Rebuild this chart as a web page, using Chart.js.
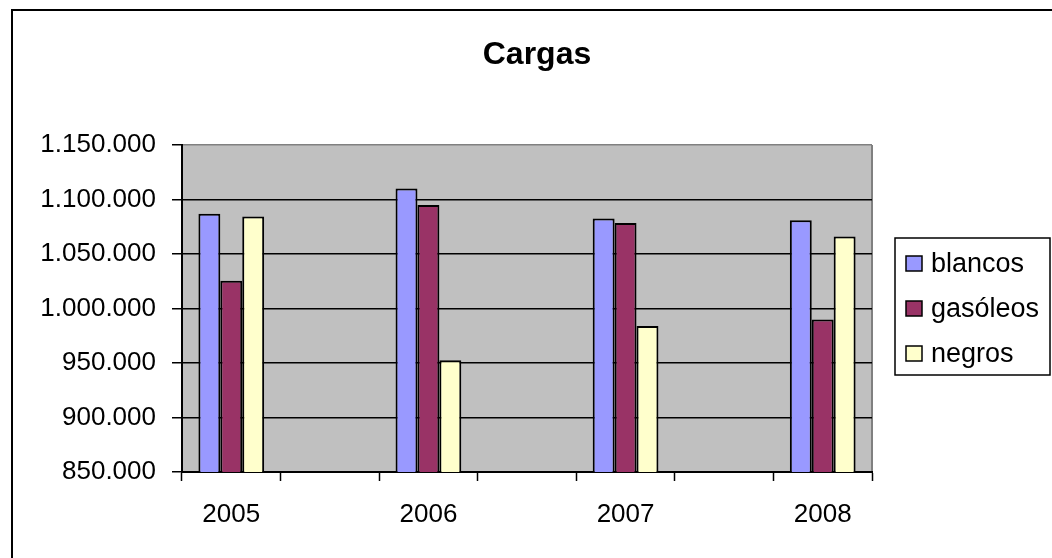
<!DOCTYPE html>
<html lang="es">
<head>
    <meta charset="UTF-8">
    <title>Cargas</title>
    <script src="https://cdn.jsdelivr.net/npm/chart.js"></script>
    <style>
        body {
            margin: 0;
            background: #fff;
        }
        .wrap {
            width: 1052px;
            height: 558px;
            position: relative;
        }
    </style>
</head>
<body>
    <div class="wrap">
        <canvas id="cargasChart"></canvas>
    </div>

    <script>
        const years = ['2005', '2006', '2007', '2008'];
        const blancos = [1087000, 1110000, 1082500, 1081000];
        const gasoleos = [1025500, 1095000, 1078500, 990000];
        const negros = [1084500, 952500, 984000, 1066000];
        const yTicks = [850000, 900000, 950000, 1000000, 1050000, 1100000, 1150000];

        // the original sheet leaves an empty category between the years
        const spaced = arr => arr.flatMap((v, i) => i < arr.length - 1 ? [v, null] : [v]);
        const labels = spaced(years).map(v => v === null ? '' : v);

        const fmt = v => String(v).replace(/\B(?=(\d{3})+(?!\d))/g, '.');

        Chart.defaults.font.family = "'Liberation Sans', Arial, sans-serif";
        Chart.defaults.font.size = 26;
        Chart.defaults.color = '#000';

        const frame = {
            id: 'frame',
            beforeDraw(chart) {
                const { ctx, chartArea: a } = chart;
                ctx.save();
                ctx.fillStyle = '#fff';
                ctx.fillRect(0, 0, chart.width, chart.height);
                ctx.strokeStyle = '#000';
                ctx.lineWidth = 2;
                ctx.beginPath();
                ctx.moveTo(12, chart.height + 5);
                ctx.lineTo(12, 10);
                ctx.lineTo(chart.width + 5, 10);
                ctx.stroke();
                ctx.fillStyle = '#c0c0c0';
                ctx.fillRect(a.left, a.top, a.right - a.left, a.bottom - a.top);
                ctx.strokeStyle = '#808080';
                ctx.beginPath();
                ctx.moveTo(a.right, a.top);
                ctx.lineTo(a.right, a.bottom);
                ctx.stroke();
                ctx.restore();
            },
            afterDraw(chart) {
                const ctx = chart.ctx;
                ctx.save();
                // title
                ctx.fillStyle = '#000';
                ctx.font = "bold 32px 'Liberation Sans', Arial, sans-serif";
                ctx.textAlign = 'center';
                ctx.textBaseline = 'alphabetic';
                ctx.fillText('Cargas', 537, 64);

                // legend box
                ctx.lineWidth = 1.5;
                ctx.strokeStyle = '#000';
                ctx.strokeRect(895, 238, 155, 137);
                ctx.font = "27px 'Liberation Sans', Arial, sans-serif";
                ctx.textAlign = 'left';
                ctx.textBaseline = 'middle';
                chart.data.datasets.forEach((ds, i) => {
                    const y = 264 + i * 45;
                    ctx.fillStyle = ds.backgroundColor;
                    ctx.fillRect(906, y - 8, 16, 15);
                    ctx.lineWidth = 1.5;
                    ctx.strokeRect(906, y - 8, 16, 15);
                    ctx.fillStyle = '#000';
                    ctx.fillText(ds.label, 931, y + 1);
                });
                ctx.restore();
            }
        };

        new Chart(document.getElementById('cargasChart'), {
            type: 'bar',
            data: {
                labels: labels,
                datasets: [
                    { label: 'blancos', data: spaced(blancos), backgroundColor: '#9999ff' },
                    { label: 'gasóleos', data: spaced(gasoleos), backgroundColor: '#993366' },
                    { label: 'negros', data: spaced(negros), backgroundColor: '#ffffcc' }
                ]
            },
            options: {
                responsive: true,
                maintainAspectRatio: false,
                animation: false,
                layout: {
                    padding: { top: 145, right: 180, bottom: 0, left: 0 }
                },
                datasets: {
                    bar: {
                        borderColor: '#000',
                        borderWidth: 2,
                        borderSkipped: false,
                        barPercentage: 1,
                        categoryPercentage: 0.667
                    }
                },
                plugins: {
                    legend: { display: false },
                    title: { display: false },
                    tooltip: { enabled: false }
                },
                scales: {
                    x: {
                        afterFit: s => { s.height = 86; },
                        grid: {
                            offset: true,
                            drawOnChartArea: false,
                            tickLength: 9,
                            tickColor: '#000',
                            tickWidth: 1.5
                        },
                        border: { color: '#000', width: 2 },
                        ticks: { autoSkip: false, maxRotation: 0, padding: 18 }
                    },
                    y: {
                        min: yTicks[0],
                        max: yTicks[yTicks.length - 1],
                        afterFit: s => { s.width = 182; },
                        afterBuildTicks: s => { s.ticks = yTicks.map(v => ({ value: v })); },
                        grid: {
                            color: c => c.tick && c.tick.value === yTicks[yTicks.length - 1] ? '#808080' : '#000',
                            lineWidth: 1.5,
                            tickLength: 10,
                            tickColor: '#000'
                        },
                        border: { color: '#000', width: 2 },
                        ticks: { padding: 16, callback: v => fmt(v) }
                    }
                }
            },
            plugins: [frame]
        });
    </script>
</body>
</html>
